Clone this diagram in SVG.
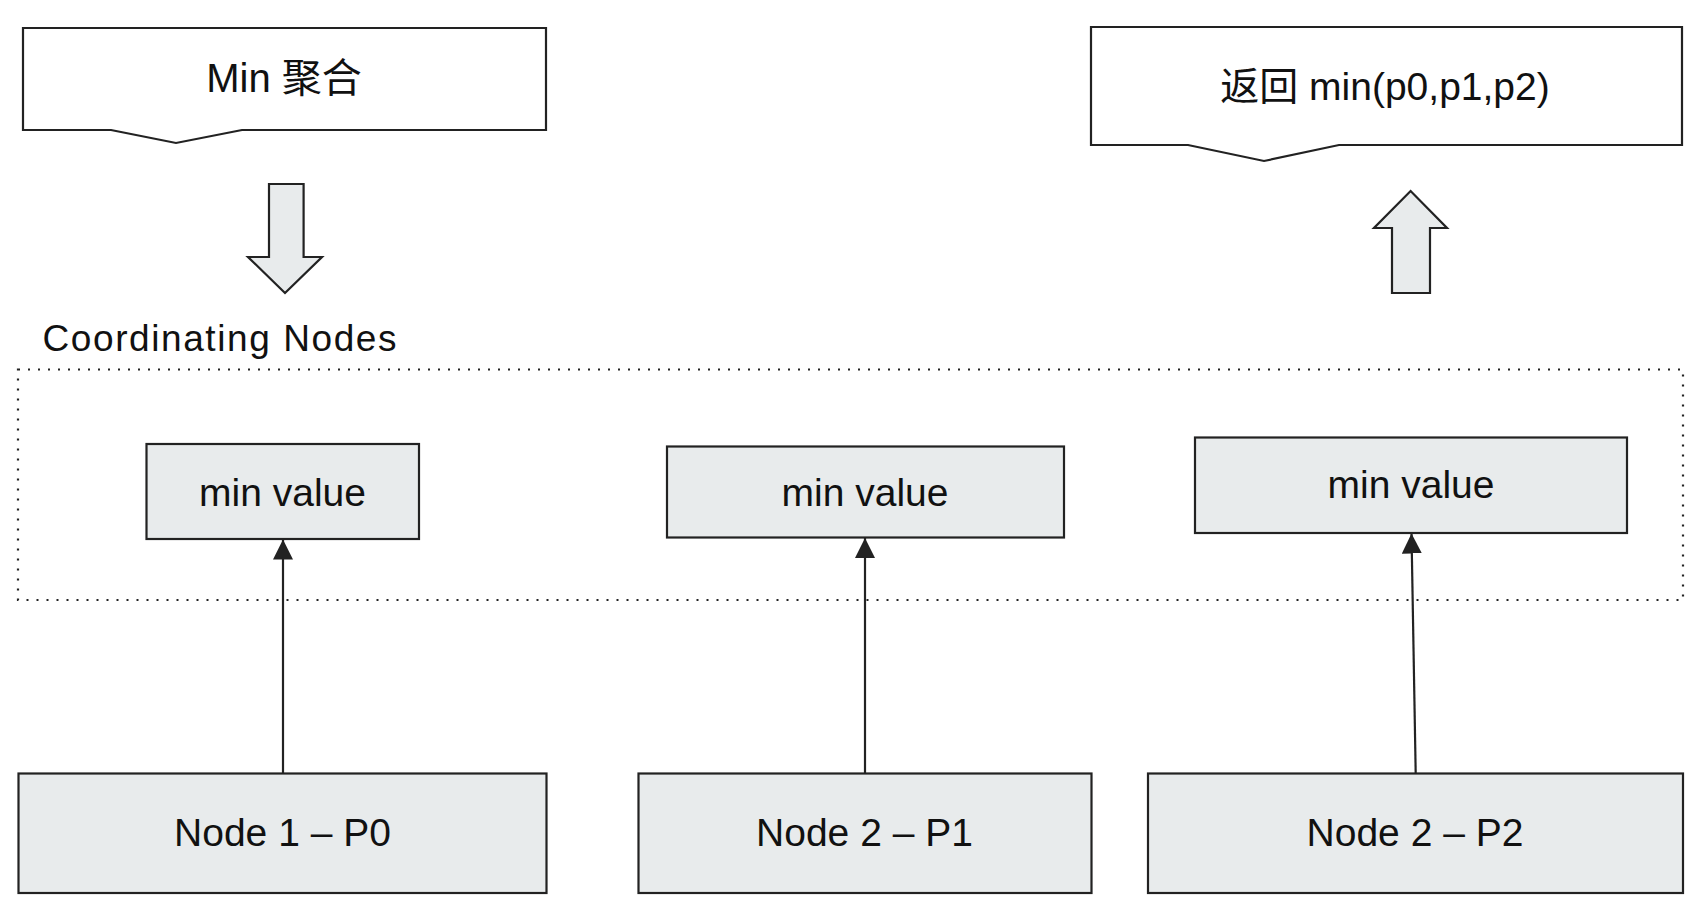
<svg xmlns="http://www.w3.org/2000/svg" width="1700" height="908" viewBox="0 0 1700 908">
<style>
.box{fill:#e8ebec;stroke:#222;stroke-width:2.2}
.note{fill:#fff;stroke:#222;stroke-width:2.2}
.blk{fill:#e8ebec;stroke:#222;stroke-width:2.2;stroke-linejoin:miter}
.t{font-family:"Liberation Sans","Noto Sans CJK SC",sans-serif;fill:#111;text-anchor:middle}
.conn{stroke:#222;stroke-width:2.2;fill:none}
.dot{fill:none;stroke:#222;stroke-width:2.2;stroke-dasharray:2 8}
</style>
<defs>
<marker id="ah" markerUnits="userSpaceOnUse" markerWidth="20" markerHeight="20" viewBox="0 0 20 20" refX="20" refY="10" orient="auto">
<path d="M0,0 L20,10 L0,20 Z" fill="#222"/>
</marker>
</defs>
<rect width="1700" height="908" fill="#fff"/>

<g id="min-agg">
<path class="note" d="M23,28 H546 V130 H242 L176,143 L111,130 H23 Z"/>
<text class="t" x="284" y="92" font-size="40">Min 聚合</text>
</g>

<g id="down-arrow">
<path class="blk" d="M269,184 H303.6 V257 H322 L285,293 L248,257 H269 Z"/>
</g>

<g id="return-min">
<path class="note" d="M1091,27 H1682 V145 H1339 L1264,161 L1188,145 H1091 Z"/>
<text class="t" x="1385" y="100" font-size="39">返回 min(p0,p1,p2)</text>
</g>

<g id="up-arrow">
<path class="blk" d="M1392,293 V228 H1374 L1410.6,191 L1447,228 H1430 V293 Z"/>
</g>

<g id="coordinating-nodes">
<text x="42.5" y="351" font-family="'Liberation Sans',sans-serif" font-size="37" fill="#111" textLength="354" lengthAdjust="spacing">Coordinating Nodes</text>
<rect class="dot" x="18" y="369.5" width="1665" height="230.5"/>
</g>

<g id="min-value-1">
<rect class="box" x="146.5" y="444" width="272.5" height="95"/>
<text class="t" x="282.5" y="505.5" font-size="39">min value</text>
</g>
<g id="min-value-2">
<rect class="box" x="667" y="446.5" width="397" height="91"/>
<text class="t" x="865" y="505.5" font-size="39">min value</text>
</g>
<g id="min-value-3">
<rect class="box" x="1195" y="437.5" width="432" height="95.5"/>
<text class="t" x="1411" y="498" font-size="39">min value</text>
</g>

<g id="node-1-p0">
<rect class="box" x="18.5" y="773.5" width="528" height="119.5"/>
<text class="t" x="282.5" y="846" font-size="39">Node 1 – P0</text>
</g>
<g id="node-2-p1">
<rect class="box" x="638.5" y="773.5" width="453" height="119.5"/>
<text class="t" x="864.5" y="845.5" font-size="39">Node 2 – P1</text>
</g>
<g id="node-2-p2">
<rect class="box" x="1148" y="773.5" width="535" height="119.5"/>
<text class="t" x="1415" y="845.5" font-size="39">Node 2 – P2</text>
</g>

<g id="connectors">
<line class="conn" x1="283" y1="773.5" x2="283" y2="539.5" marker-end="url(#ah)"/>
<line class="conn" x1="865" y1="773.5" x2="865" y2="538" marker-end="url(#ah)"/>
<line class="conn" x1="1415.7" y1="773.5" x2="1411.5" y2="533.5" marker-end="url(#ah)"/>
</g>
</svg>
